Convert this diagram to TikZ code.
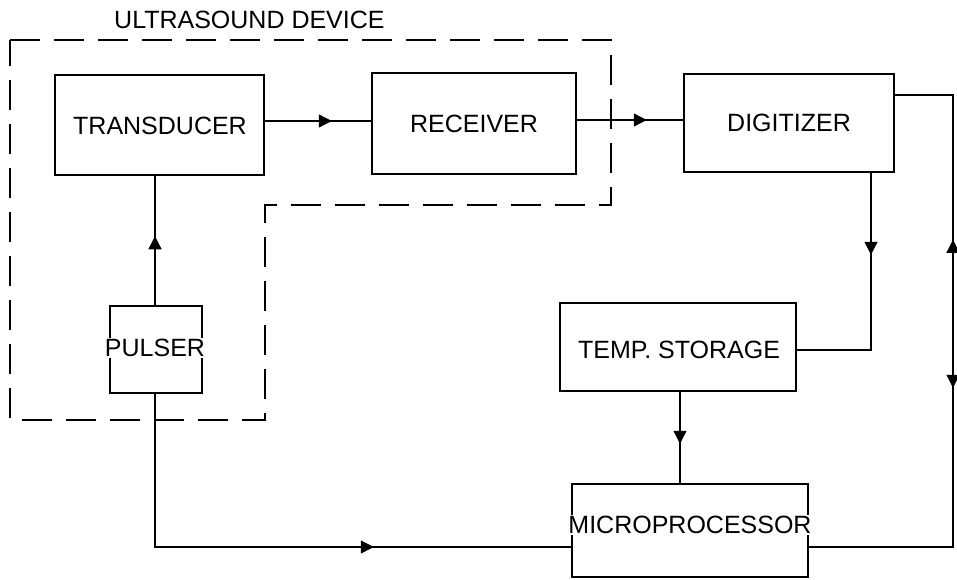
\documentclass[tikz,border=0pt]{standalone}
\usepackage{fontspec}
\setmainfont{Liberation Sans}
\usetikzlibrary{arrows.meta,decorations.markings}
\begin{document}
\begin{tikzpicture}[x=1pt,y=-1pt,
  box/.style={draw, line width=1.5pt, inner sep=0pt, rectangle},
  lbl/.style={font=\fontsize{25}{28}\selectfont, inner sep=1pt, fill=white},
  conn/.style={line width=1.3pt},
  am/.style={postaction={decorate}, decoration={markings, mark=at position #1 with {\arrow{Triangle[length=13pt,width=13pt]}}}},
  amtwo/.style 2 args={postaction={decorate}, decoration={markings,
     mark=at position #1 with {\arrowreversed{Triangle[length=13pt,width=13pt]}},
     mark=at position #2 with {\arrow{Triangle[length=13pt,width=13pt]}}}},
  dashbox/.style={line width=1.4pt, dash pattern=on 30pt off 14pt}
]
\useasboundingbox (0,0) rectangle (957,579);

% helper coordinates
\coordinate (h121) at (0,121);
\coordinate (h120) at (0,120);
\coordinate (h95) at (0,95);
\coordinate (h350) at (0,350);
\coordinate (h547) at (0,547);
\coordinate (x871) at (871,0);
\coordinate (x680) at (680,0);
\coordinate (x953) at (953,0);
\coordinate (x155) at (155,0);

% dashed device boundary
\draw[dashbox] (10,40) -- (611,40) -- (611,205) -- (265,205) -- (265,420) -- (10,420) -- cycle;
\node[font=\fontsize{25}{28}\selectfont, anchor=west, inner sep=0pt] (title) at (114,20) {ULTRASOUND DEVICE};

% boxes
\node[box, minimum width=209pt, minimum height=100pt] (trans) at (159.5,125) {};
\node[box, minimum width=204pt, minimum height=101pt] (rec) at (474,123.5) {};
\node[box, minimum width=210pt, minimum height=98pt] (dig) at (789,123) {};
\node[box, minimum width=236pt, minimum height=88pt] (temp) at (678,347) {};
\node[box, minimum width=236pt, minimum height=93pt] (mp) at (690,530.5) {};
\node[box, minimum width=92pt, minimum height=87pt] (pul) at (156,349.5) {};

% labels
\node[lbl] (transT) at (160,125.5) {TRANSDUCER};
\node[lbl] (recT) at (474,123.5) {RECEIVER};
\node[lbl] (digT) at (789,122.5) {DIGITIZER};
\node[lbl] (tempT) at (679,350) {TEMP.\ STORAGE};
\node[lbl] (mpT) at (690,525) {MICROPROCESSOR};
\node[lbl] (pulT) at (155,348) {PULSER};

% connectors
\draw[conn, am=67pt] (trans.east |- h121) -- (rec.west |- h121);
\draw[conn, am=70pt] (rec.east |- h120) -- (dig.west |- h120);
\draw[conn, am=69pt] (pul.north -| x155) -- (trans.south -| x155);
\draw[conn, am=372pt] (pul.south -| x155) |- (mp.west |- h547);
\draw[conn, am=82pt] (dig.south -| x871) |- (temp.east |- h350);
\draw[conn, am=52pt] (temp.south -| x680) -- (mp.north -| x680);
\draw[conn, amtwo={203pt}{351pt}] (dig.east |- h95) -| (x953 |- h547) -- (mp.east |- h547);
\end{tikzpicture}
\end{document}
